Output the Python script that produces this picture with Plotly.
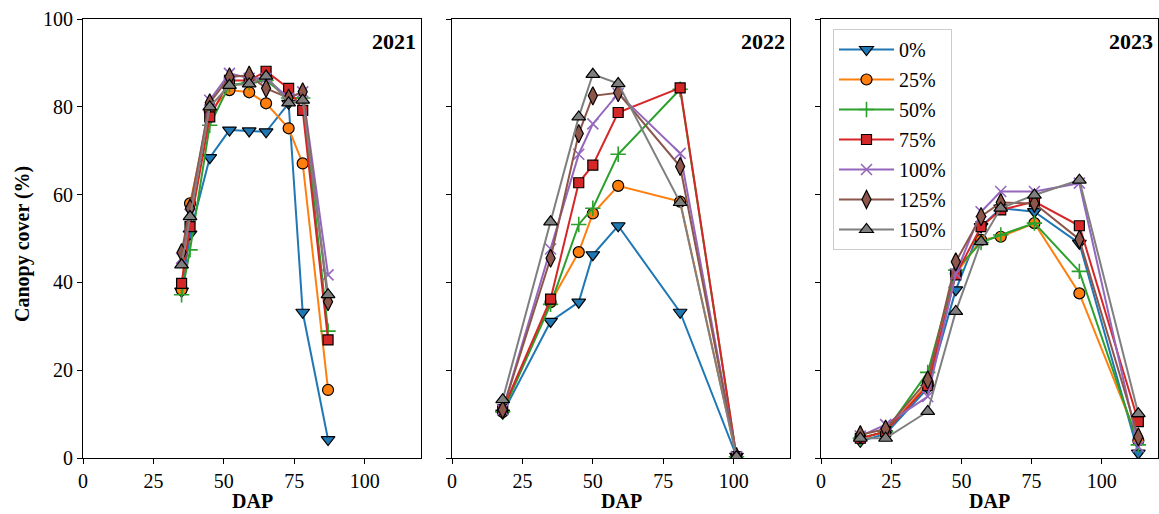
import plotly.graph_objects as go

# Treatments (fraction of recommended dose)
TREATMENTS = ["0%", "25%", "50%", "75%", "100%", "125%", "150%"]
COLORS = ["#1f77b4", "#ff7f0e", "#2ca02c", "#d62728", "#9467bd", "#8c564b", "#7f7f7f"]
SYMBOLS = ["triangle-down", "circle", "cross-thin", "square", "x-thin", "diamond-tall", "triangle-up"]
SIZES = [12, 11, 11, 10, 11, 13, 12]

YEARS = ["2021", "2022", "2023"]

# Days after planting for each season
DAP_2021 = [35, 38, 45, 52, 59, 65, 73, 78, 87]
DAP_2022 = [18, 35, 45, 50, 59, 81, 101]
DAP_2023 = [14, 23, 38, 48, 57, 64, 76, 92, 113]

# Canopy cover (%) per treatment, rows in TREATMENTS order
CC_2021 = [
    [38.0, 51.0, 68.4, 74.7, 74.5, 74.3, 80.8, 33.2, 4.2],
    [38.3, 58.0, 79.0, 83.8, 83.3, 80.8, 75.1, 67.1, 15.5],
    [37.2, 47.4, 75.8, 85.0, 85.5, 86.0, 82.0, 82.0, 28.9],
    [39.8, 52.7, 77.7, 86.0, 86.0, 88.1, 84.2, 79.2, 26.9],
    [45.5, 55.5, 81.5, 87.6, 86.5, 86.5, 82.0, 83.4, 41.7],
    [46.8, 56.9, 80.9, 86.8, 87.2, 84.2, 82.0, 83.4, 35.6],
    [44.0, 55.0, 80.0, 84.9, 85.2, 87.0, 80.9, 81.5, 37.2],
]
CC_2022 = [
    [10.2, 31.1, 35.5, 46.3, 52.9, 33.2, 0.4],
    [10.5, 35.5, 46.9, 55.7, 62.0, 58.4, 0.3],
    [10.5, 35.0, 53.2, 56.9, 69.2, 84.0, 0.3],
    [11.0, 36.2, 62.7, 66.7, 78.7, 84.3, 0.3],
    [11.0, 47.6, 69.2, 76.1, 83.0, 69.4, 0.3],
    [11.0, 45.5, 73.9, 82.5, 83.2, 66.4, 0.3],
    [13.3, 53.8, 77.7, 87.4, 85.3, 58.2, 0.3],
]
CC_2023 = [
    [3.8, 5.5, 15.9, 38.3, 52.7, 56.9, 56.1, 48.9, 1.1],
    [4.5, 6.0, 17.0, 42.0, 49.7, 50.4, 53.5, 37.5, 4.0],
    [4.5, 6.0, 19.5, 42.8, 49.1, 50.8, 53.5, 42.5, 3.0],
    [4.5, 6.0, 16.5, 41.7, 52.7, 56.5, 58.4, 52.9, 8.3],
    [5.0, 7.6, 14.0, 42.0, 56.1, 60.7, 60.7, 62.6, 2.6],
    [5.3, 6.6, 17.8, 44.7, 55.0, 58.2, 58.0, 49.8, 4.8],
    [4.5, 4.5, 10.6, 33.4, 49.3, 56.9, 59.9, 63.3, 10.1],
]

SEASONS = [(DAP_2021, CC_2021), (DAP_2022, CC_2022), (DAP_2023, CC_2023)]

FONT = "Liberation Serif, Times New Roman, serif"
W, H = 1159, 514
ML, MR, MT, MB = 83, 1, 19, 56
PW = W - ML - MR
PH = H - MT - MB
# panel edges in pixels, relative to the left margin
PANELS_PX = [(0, 338), (369, 707), (738, PW)]
DOMAINS = [[a / PW, b / PW] for a, b in PANELS_PX]

fig = go.Figure()

for p, (dap, table) in enumerate(SEASONS):
    xa = "x" if p == 0 else f"x{p + 1}"
    ya = "y" if p == 0 else f"y{p + 1}"
    for i, name in enumerate(TREATMENTS):
        thin = SYMBOLS[i].endswith("-thin")
        fig.add_trace(go.Scatter(
            x=dap, y=table[i], mode="lines+markers", name=name,
            legendgroup=name, showlegend=(p == 0),
            xaxis=xa, yaxis=ya,
            line=dict(color=COLORS[i], width=2),
            marker=dict(symbol=SYMBOLS[i], size=SIZES[i], color=COLORS[i],
                        line=dict(color=COLORS[i] if thin else "black",
                                  width=1.6 if thin else 1.2)),
        ))

axis_common = dict(showline=True, linecolor="black", linewidth=1, mirror=True,
                   ticks="outside", ticklen=5, tickwidth=1, tickcolor="black",
                   showgrid=False, zeroline=False,
                   tickfont=dict(family=FONT, size=20, color="black"))

layout = dict(
    width=W, height=H, margin=dict(l=ML, r=MR, t=MT, b=MB),
    paper_bgcolor="white", plot_bgcolor="white",
    font=dict(family=FONT, size=20, color="black"),
    legend=dict(x=(833 - ML) / PW, y=(H - MB - 29) / PH,
                xanchor="left", yanchor="top",
                bgcolor="rgba(255,255,255,0.85)", bordercolor="#cccccc", borderwidth=1,
                font=dict(family=FONT, size=20, color="black"),
                tracegroupgap=1, itemwidth=55),
)
for p in range(3):
    sfx = "" if p == 0 else str(p + 1)
    layout[f"xaxis{sfx}"] = dict(axis_common, domain=DOMAINS[p], range=[0, 120],
                                 tickvals=[0, 25, 50, 75, 100], anchor=f"y{sfx}")
    layout[f"yaxis{sfx}"] = dict(axis_common, domain=[0, 1], range=[0, 100],
                                 tickvals=[0, 20, 40, 60, 80, 100], anchor=f"x{sfx}",
                                 showticklabels=(p == 0))
fig.update_layout(**layout)

annotations = []
for p, year in enumerate(YEARS):
    sfx = "" if p == 0 else str(p + 1)
    annotations.append(dict(text=f"<b>{year}</b>", xref=f"x{sfx} domain", yref=f"y{sfx} domain",
                            x=1, y=(H - MB - 42) / PH, xanchor="right", yanchor="middle",
                            xshift=-3, showarrow=False,
                            font=dict(family=FONT, size=22, color="black")))
    annotations.append(dict(text="<b>DAP</b>", xref=f"x{sfx} domain", yref="paper",
                            x=0.5, y=(H - MB - 501) / PH, xanchor="center", yanchor="middle",
                            showarrow=False, font=dict(family=FONT, size=20, color="black")))
annotations.append(dict(text="<b>Canopy cover (%)</b>", xref="paper", yref="paper",
                        x=(22 - ML) / PW, y=(H - MB - 244) / PH,
                        xanchor="center", yanchor="middle", textangle=-90, showarrow=False,
                        font=dict(family=FONT, size=20, color="black")))
fig.update_layout(annotations=annotations)

fig.write_html("out.html")
